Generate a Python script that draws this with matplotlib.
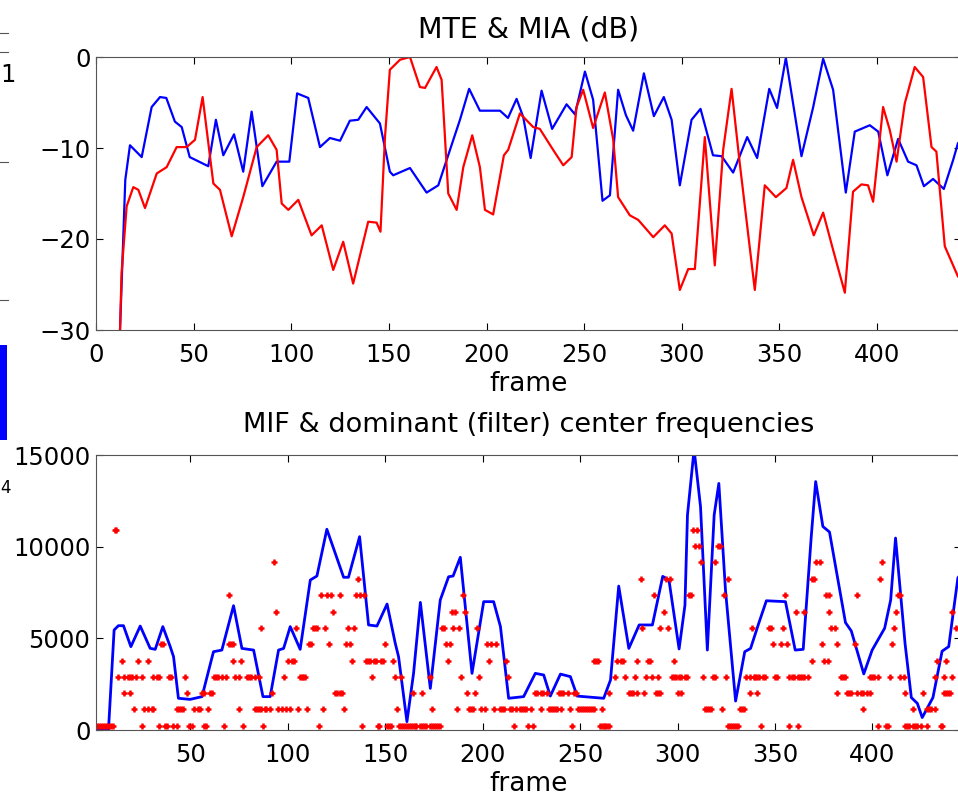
import matplotlib.pyplot as plt
from matplotlib.patches import Rectangle
from matplotlib.lines import Line2D

plt.rcParams['font.family'] = ['DejaVu Sans']

# MTE (blue) and MIA (red), dB
mte_frames = [11, 12.3, 15, 17.4, 23.4, 28.5, 32.8, 36, 40.4, 43.9, 48, 57.5, 61.4, 65.2, 70.7,
              75.4, 79.7, 85.2, 92.5, 99, 103, 108.7, 114.7, 119.8, 125, 130, 134.3, 138.6, 145.4,
              150.5, 152.2, 160.8, 169.3, 175.3, 179.6, 186.4, 191.1, 196.6, 206.9, 211, 215.4,
              218.8, 222.6, 228.2, 233.6, 241, 245.3, 250.4, 254.6, 259.4, 263.2, 267.4, 271.4,
              275.1, 280.6, 285.7, 290.8, 294.8, 299, 305, 309.6, 316, 320.4, 326.3, 333.5, 338.6,
              344.8, 348.8, 353.3, 361.3, 367.3, 372.4, 377.5, 384, 388.6, 396.3, 400.6, 405.3,
              410.8, 415.9, 420.2, 424, 428.7, 434.2, 439, 441.4, 445]
mte_db = [-36, -30, -13.5, -9.7, -11, -5.5, -4.4, -4.5, -7.1, -7.7, -11, -12, -6.9, -10.8, -8.5,
          -12.6, -6, -14.2, -11.5, -11.5, -4, -4.5, -9.9, -8.9, -9.2, -7, -6.9, -5.5, -7.3,
          -12.6, -13, -12.2, -14.9, -14.1, -11.3, -6.9, -3.5, -5.9, -5.9, -6.7, -4.6,
          -6.6, -11.1, -3.7, -7.9, -5.2, -6.3, -1.6, -4.7, -15.8, -15.2, -3.6, -6.4,
          -8.1, -1.8, -6.5, -4.4, -6.9, -14.1, -6.9, -5.7, -10.8, -10.9, -12.7, -8.8, -11.1,
          -3.5, -5.6, -0.1, -10.9, -5.5, -0.2, -3.6, -14.9, -8.2, -7.5, -8.2, -13,
          -9, -11.5, -11.9, -14.2, -13.4, -14.5, -11.3, -9.5, -8.5]

mia_frames = [11, 12.3, 13.1, 15.7, 19.1, 21.7, 25.1, 31.1, 36.2, 41.3, 46.4, 50.7, 54.6, 60.1,
              63.5, 69.5, 75.4, 82.3, 88.2, 92.5, 95.1, 98.5, 103.6, 110.4, 115.6, 121.5, 126.6,
              131.7, 139.4, 143.7, 145.7, 148, 150.5, 155.7, 160.8, 165.9, 168.5, 174.4, 177,
              180.4, 184.7, 188.1, 192.7, 196.6, 199.2, 203.4, 208.9, 211.1, 217.1, 223.9, 227.3,
              234.1, 239.3, 243.6, 246.1, 249.5, 254.6, 260.6, 264.9, 267.4, 273.4, 277.7, 285.4,
              291.3, 294.8, 299, 303.3, 306.7, 311.8, 316.9, 321.2, 325.5, 329.7, 337.4, 342.5,
              348.2, 353.6, 357, 361.3, 367.6, 372.4, 377.5, 383.5, 387.7, 392, 395.4, 398,
              403.1, 406.5, 410, 414.2, 419.3, 423.6, 427.9, 430.4, 434.7, 441.4, 445]
mia_db = [-36, -30, -23.7, -16.4, -14.3, -14.6, -16.6, -12.8, -12.1, -9.9, -9.9, -9.1, -4.4, -13.9,
          -14.6, -19.7, -15.4, -9.9, -8.6, -10.2, -16.1, -16.8, -15.7, -19.6, -18.5, -23.4, -20.3,
          -24.9, -18.1, -18.2, -19.2, -8.8, -1.4, -0.3, 0, -3.3, -3.4, -1.1, -2.5,
          -15, -16.8, -12.1, -8.6, -12.1, -16.8, -17.3, -10.8, -10.2, -6.2, -7.7, -7.9,
          -10.2, -11.9, -11, -5.5, -3.6, -7.8, -3.9, -9.1, -15.4, -17.4, -17.9, -19.8,
          -18.5, -19.4, -25.6, -23.3, -23.3, -8.8, -22.9, -10.2, -3.5, -11.7, -25.6, -14.1,
          -15.4, -14.4, -11.3, -15.4, -19.6, -17.1, -21.2, -25.9, -14.8, -14, -14.1, -15.9,
          -5.5, -8, -11.5, -5.1, -1.1, -2.2, -9.9, -10.4, -20.8, -24.1, -25]

# MIF (blue line), Hz
mif_frames = [1, 7.9, 10.8, 13, 15.6, 19.4, 24.2, 29.3, 31.9, 35.8, 39.6, 41.3, 43.8, 49.8, 55.9,
              61.8, 66.1, 72.1, 76.4, 82.4, 87.2, 90.9, 95.2, 97.8, 101.2, 106.3, 111.5, 114.9,
              120, 128.6, 131.1, 136.8, 141.4, 145.7, 150.9, 155.1, 156.8, 161.1, 164.5, 168,
              173.1, 178.2, 182.5, 184.8, 188.5, 194.5, 200.5, 205.6, 209.1, 213.3, 221, 227,
              231.3, 234.7, 239.9, 245, 248.5, 262.1, 265.6, 269.8, 275, 280.3, 287.1, 292.4,
              295.6, 300.8, 303.8, 305.1, 308.5, 311.8, 315.3, 318.8, 321.2, 324.6, 329.8, 334.5,
              337.5, 341.4, 345.6, 355.4, 360.4, 364.5, 368.6, 370.9, 374.6, 378, 386.2, 389.2,
              395.6, 399.9, 406.3, 409.4, 411.9, 416.8, 420, 423.1, 425.6, 431.1, 435.8, 439.2,
              443.9, 446]
mif_hz = [0, 0, 5455, 5690, 5690, 4545, 5670, 4455, 4400, 5640, 4545, 4000, 1730, 1670, 1820,
          4270, 4360, 6780, 4450, 4360, 1820, 1820, 4360, 4450, 5640, 4400, 8180, 8400,
          10950, 8330, 8330, 10545, 5730, 5670, 6870, 4730, 4000, 455, 3090, 6960,
          2270, 7090, 8360, 8400, 9420, 3090, 7000, 7000, 5640, 1730, 1820, 3090,
          3000, 1850, 3050, 2910, 1850, 1730, 2730, 7850, 4450, 5730, 5730, 8380,
          8180, 4420, 6800, 11730, 15300, 12180, 4360, 11730, 13450, 7640, 1580, 4270,
          4450, 5730, 7050, 7000, 4360, 4400, 10500, 13550, 11100, 10800, 5860, 5400,
          3060, 4360, 5550, 7090, 10470, 4700, 1770, 1450, 680, 1770, 4300, 4550,
          8300, 8600]

# dominant filter: centre frequency of each filter band, and the frames where it wins
center_hz = [218, 1127, 2018, 2900, 3782, 4690, 5560, 6450, 7350, 8240, 9150, 10040, 10925]
dom_frames_by_band = [
    [1, 2, 3, 4, 5, 6, 7, 8, 9, 10, 25, 34, 37, 38, 41, 43, 49, 51, 57, 58, 67, 77, 87, 116, 138,
     146, 147, 151, 152, 153, 157, 158, 159, 160, 161, 162, 163, 164, 165, 166, 168, 169, 170,
     171, 173, 174, 175, 176, 177, 178, 216, 223, 226, 246, 260, 261, 262, 263, 264, 265,
     326, 327, 328, 329, 330, 331, 343, 357, 362, 403, 407, 408, 417, 418, 419, 421, 422,
     423, 425, 428, 435, 436],
    [21, 26, 28, 30, 31, 43, 44, 45, 46, 52, 54, 55, 59, 75, 83, 84, 85, 86, 88, 89, 91, 95, 97,
     99, 101, 105, 110, 118, 129, 156, 174, 187, 193, 194, 195, 199, 201, 206, 209, 210, 211,
     214, 215, 217, 219, 220, 221, 222, 225, 230, 234, 235, 236, 237, 238, 240, 245, 249, 250,
     251, 252, 253, 254, 255, 256, 257, 261, 314, 315, 316, 317, 323, 332, 333, 334, 395,
     421, 428, 429, 430, 432],
    [16, 19, 48, 56, 57, 60, 61, 92, 124, 125, 127, 128, 164, 169, 192, 196, 227, 228, 230, 231,
     233, 239, 240, 241, 244, 247, 248, 265, 275, 276, 277, 279, 283, 289, 290, 291, 300, 302,
     337, 341, 382, 387, 388, 389, 392, 394, 395, 397, 399, 417, 426, 437, 438, 439, 440],
    [13, 16, 18, 19, 20, 22, 25, 31, 33, 34, 39, 40, 47, 62, 63, 64, 66, 68, 73, 75, 79, 80, 81,
     83, 85, 98, 106, 107, 108, 109, 143, 155, 158, 173, 189, 198, 213, 268, 273, 278, 284,
     287, 290, 297, 298, 299, 301, 302, 304, 305, 313, 318, 319, 325, 335, 337, 339, 340, 341,
     342, 344, 345, 350, 351, 357, 359, 360, 362, 363, 364, 365, 367, 384, 385, 386, 399, 400,
     401, 403, 409, 414, 416, 432, 437, 441],
    [15, 23, 28, 72, 76, 100, 102, 103, 133, 140, 141, 142, 144, 145, 148, 149, 154, 182, 203,
     212, 257, 258, 259, 269, 271, 272, 279, 285, 286, 298, 369, 375, 377, 433, 438],
    [35, 36, 70, 71, 72, 111, 112, 121, 130, 132, 150, 181, 183, 202, 204, 207, 349, 353, 356,
     374, 382, 391, 410],
    [86, 104, 113, 114, 115, 119, 131, 134, 179, 180, 185, 188, 197, 282, 291, 295, 338, 347,
     348, 354, 379, 381, 411, 443],
    [94, 123, 184, 186, 191, 293, 361, 365, 378, 412, 441],
    [70, 117, 120, 122, 127, 135, 137, 139, 190, 288, 306, 307, 324, 355, 376, 378, 392, 413,
     414],
    [136, 281, 294, 296, 326, 369, 370, 404],
    [93, 312, 319, 371, 373, 405],
    [309, 311, 321, 322],
    [11, 12, 308, 310],
]

dom_frames = []
dom_hz = []
for hz, frames in zip(center_hz, dom_frames_by_band):
    dom_frames += frames
    dom_hz += [hz] * len(frames)

W, H = 958, 797
fig = plt.figure(figsize=(W / 100, H / 100), dpi=100)


def box(left, top, right, bottom):
    # pixel box -> figure fraction
    return [left / W, 1 - bottom / H, (right - left) / W, (bottom - top) / H]


def style(ax):
    ax.tick_params(direction='in', length=5, width=0.8, top=True, right=True,
                   labelsize=17.5, colors='black')
    ax.tick_params(axis='x', pad=9)
    ax.tick_params(axis='y', pad=4)
    ax.spines['right'].set_visible(False)
    for s in ax.spines.values():
        s.set_linewidth(0.8)
        s.set_color('#555555')


ax1 = fig.add_axes(box(96, 57, 961, 330))
ax1.plot(mte_frames, mte_db, color='blue', lw=1.6)
ax1.plot(mia_frames, mia_db, color='red', lw=1.6)
ax1.set_xlim(0, 443)
ax1.set_ylim(-30, 0)
ax1.set_xticks(range(0, 401, 50))
ax1.set_yticks([-30, -20, -10, 0])
style(ax1)
ax1.set_title('MTE & MIA (dB)', fontsize=20.5, y=1.073, pad=0)
ax1.set_xlabel('frame', fontsize=19)
ax1.xaxis.set_label_coords(0.5, -0.15)

ax2 = fig.add_axes(box(96, 455, 961, 730))
ax2.plot(mif_frames, mif_hz, color='blue', lw=2.0)
ax2.plot(dom_frames, dom_hz, ls='none', marker='+', ms=4.5, mew=1.8, color='red')
ax2.set_xlim(1.5, 445.5)
ax2.set_ylim(0, 15000)
ax2.set_xticks(range(50, 401, 50))
ax2.set_yticks([0, 5000, 10000, 15000])
style(ax2)
ax2.set_title('MIF & dominant (filter) center frequencies', fontsize=19.5, y=1.084, pad=0)
ax2.set_xlabel('frame', fontsize=19)
ax2.xaxis.set_label_coords(0.5, -0.15)

# scraps of the neighbouring (cropped) figure along the left edge
fig.add_artist(Rectangle((0, 1 - 440 / H), 7 / W, 95 / H, transform=fig.transFigure,
                         color='blue', lw=0))
fig.text(0.0005, 1 - 75 / H, '1', fontsize=17.5, va='center', ha='left')
fig.text(0.0005, 1 - 488 / H, '4', fontsize=12, va='center', ha='left')
for yp in [33, 52, 162, 300]:
    fig.add_artist(Line2D([0, 8 / W], [1 - yp / H] * 2, transform=fig.transFigure,
                          color='#555555', lw=0.8))

fig.savefig('out.png', dpi=100)
